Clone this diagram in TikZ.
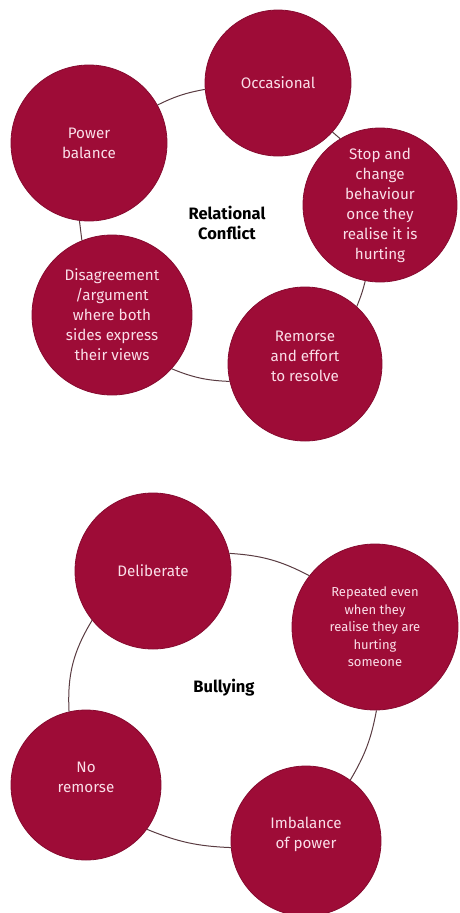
\documentclass[tikz,border=0pt]{standalone}
\usepackage{fontspec}
\setmainfont{Fira Sans}
\usepackage{xcolor}
\usetikzlibrary{positioning}

\definecolor{wine}{RGB}{158,12,55}
\definecolor{blush}{RGB}{250,222,232}
\definecolor{linkgrey}{RGB}{90,60,66}

\begin{document}
\begin{tikzpicture}[
    x=1pt, y=-1pt,
    every node/.style={text centered, align=center},
    bubble/.style={circle, fill=wine, draw=wine!85!black, line width=0.8pt, text=blush, inner sep=0pt, font=\fontsize{15.2}{20}\selectfont},
    small/.style={font=\fontsize{13}{17.5}\selectfont},
    lifted/.style={text depth=16pt},
    title/.style={font=\bfseries\fontsize{16.5}{20}\selectfont, text=black},
    link/.style={draw=linkgrey, line width=1pt}
]
\useasboundingbox (0,0) rectangle (459,913);

% Relational conflict
\node[title] (relational) at (227,223) {Relational\\Conflict};
\node[bubble, minimum size=146] (occasional) at (278,83) {Occasional};
\node[bubble, minimum size=156] (power) at (89,143) {Power\\balance};
\node[bubble, minimum size=154] (stop) at (380,205) {Stop and\\change\\behaviour\\once they\\realise it is\\hurting};
\node[bubble, minimum size=160] (disagree) at (112,315) {Disagreement\\/argument\\where both\\sides express\\their views};
\node[bubble, lifted, minimum size=154] (remorse) at (305,364) {Remorse\\and effort\\to resolve};

% Bullying
\node[title] (bullying) at (224,688) {Bullying};
\node[bubble, minimum size=156] (deliberate) at (153,571) {Deliberate};
\node[bubble, small, minimum size=166] (repeated) at (375,627) {Repeated even\\when they\\realise they are\\hurting\\someone};
\node[bubble, lifted, minimum size=150] (noremorse) at (86,785) {No\\remorse};
\node[bubble, lifted, minimum size=150] (imbalance) at (306,841) {Imbalance\\of power};

% Connections
\draw[link] (power.29) to[bend left=8] (occasional.185);
\draw[link] (occasional.-42) to (stop.121);
\draw[link] (stop.-101) to[bend left=4] (remorse.48);
\draw[link] (remorse.193) to[bend left=10] (disagree.-42);
\draw[link] (disagree.112) -- (power.-97);

\draw[link] (deliberate.13) to[bend left=12] (repeated.142);
\draw[link] (repeated.-89) to[bend left=10] (imbalance.54);
\draw[link] (imbalance.185) to[bend left=10] (noremorse.-36);
\draw[link] (noremorse.103) to[bend left=17] (deliberate.219);

\end{tikzpicture}
\end{document}
